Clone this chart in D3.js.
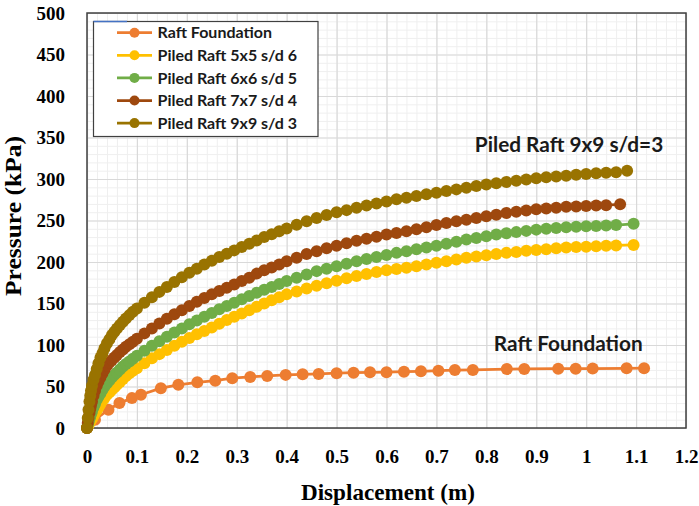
<!DOCTYPE html>
<html>
<head>
<meta charset="utf-8">
<script src="https://cdn.jsdelivr.net/npm/d3@7"></script>
<style>
  html, body { margin: 0; padding: 0; background: #ffffff; }
  svg { display: block; }
</style>
</head>
<body>
<div id="chart"></div>
<script>
// ---------- DATA ----------
const seriesNames = ["Raft Foundation", "Piled Raft 5x5 s/d 6", "Piled Raft 6x6 s/d 5", "Piled Raft 7x7 s/d 4", "Piled Raft 9x9 s/d 3"];
const seriesColors = ["#ED7D31", "#FFC000", "#70AD47", "#9E480E", "#997300"];

const raftDisp = [0, 0.016, 0.043, 0.065, 0.09, 0.108, 0.148, 0.183, 0.221, 0.257, 0.291, 0.327, 0.361, 0.398, 0.432, 0.464, 0.5, 0.534, 0.567, 0.6, 0.635, 0.669, 0.704, 0.737, 0.773, 0.841, 0.876, 0.944, 0.979, 1.013, 1.081, 1.116];
const raftPress = [0, 10, 22, 30, 36, 40, 48, 52, 55, 57, 60, 61.5, 62.7, 64, 64.7, 65.2, 66, 66.6, 67.1, 67.3, 67.9, 68.3, 69, 69.8, 70, 71, 71.1, 71.4, 71.5, 71.6, 71.9, 72];

const piledDisp = [0, 0.0015, 0.003, 0.005, 0.0065, 0.008, 0.01, 0.013, 0.016, 0.0195, 0.023, 0.027, 0.031, 0.035, 0.04, 0.045, 0.05, 0.055, 0.06, 0.066, 0.072, 0.078, 0.085, 0.092, 0.1,
  0.115, 0.13, 0.145, 0.16, 0.175, 0.19, 0.205, 0.22, 0.235, 0.25, 0.265, 0.28, 0.295, 0.31, 0.325, 0.34, 0.355, 0.37, 0.385, 0.4,
  0.42, 0.44, 0.46, 0.48, 0.5, 0.52, 0.54, 0.56, 0.58, 0.6, 0.62, 0.64, 0.66, 0.68, 0.7, 0.72, 0.74, 0.76, 0.78, 0.8, 0.82, 0.84, 0.86, 0.88, 0.9, 0.92, 0.94, 0.96, 0.98, 1.0, 1.02, 1.04, 1.06];

const press5x5 = [0, 2, 3.5, 6, 8, 9.5, 11, 14.5, 18, 21.5, 25, 29, 33, 36, 40, 43, 46, 49, 52, 55.5, 59, 62.5, 66, 69, 72,
  78, 84, 89, 94, 99, 104, 108.5, 113, 117, 121, 125.5, 130, 134, 138, 142, 146, 150, 154, 157.5, 161,
  164.5, 168, 171.5, 174.5, 177.5, 180.5, 183, 185.5, 188, 190, 191.5, 193, 195, 197, 199, 201, 203, 205, 206.5, 208, 209.5, 211, 212, 213.5, 214.5, 215.5, 216.5, 217.5, 218, 218.5, 219, 219.5, 220];
const press6x6 = [0, 3.5, 7, 11, 14, 17, 20, 25, 29, 34, 38, 42, 46, 50, 54, 57.5, 61, 64, 67, 70.5, 74, 77, 80, 83.5, 87,
  93, 99, 104.5, 110, 115, 120, 125, 129.5, 134, 138.5, 143, 147, 151, 155, 159, 163, 166.5, 170, 173.5, 177,
  181, 185, 189, 192, 195, 198, 201, 203.5, 206, 208.5, 211, 213, 215.5, 217.5, 219.5, 222, 224.5, 227, 229, 231, 233, 234.5, 236, 237.5, 239, 240, 241, 242, 242.5, 243, 243.5, 244, 244.5];
const press7x7 = [0, 6, 12, 18, 23, 27, 32, 39, 45, 51, 56, 61, 66, 70.5, 75, 79, 82, 85, 88, 91.5, 94.5, 98, 101, 104, 107.5,
  114, 120, 126, 131.5, 137, 142, 147, 152, 156.5, 161, 165, 169, 173, 177, 181, 186, 190, 193.5, 197, 201,
  205, 209.5, 213, 216.5, 219.5, 222.5, 225.5, 228, 230.5, 233, 235, 237, 239.5, 242, 244.5, 247, 249, 251, 253, 255, 257, 259, 260.5, 262, 263.5, 264.5, 265.5, 266.5, 267, 267.5, 268, 268.5];
const press9x9 = [0, 12, 22, 32, 39, 45, 51, 58, 64, 71, 78, 85, 90, 96, 102, 107, 112, 116, 120, 124, 128, 132, 136, 140, 144,
  151, 157.5, 164, 170, 176, 181.5, 187, 192, 197, 201.5, 206, 210, 214, 218, 222, 226, 230, 233.5, 237, 240.5,
  245, 249, 253, 256.5, 260, 262.5, 265.5, 268, 270.5, 273, 275.5, 277.5, 279.5, 281.5, 283.5, 285.5, 287.5, 289.5, 291.5, 293.5, 295, 296.5, 298, 299.5, 301, 302, 303, 304, 305, 306, 307, 307.5, 308];

// final load-step of each piled raft curve [displacement, pressure]
const lastPoints = [[1.095, 220.5], [1.095, 246], [1.068, 269.5], [1.082, 310]];

const xTicks = [0, 0.1, 0.2, 0.3, 0.4, 0.5, 0.6, 0.7, 0.8, 0.9, 1, 1.1, 1.2];
const xTickLabels = ["0", "0.1", "0.2", "0.3", "0.4", "0.5", "0.6", "0.7", "0.8", "0.9", "1", "1.1", "1.2"];
const yTicks = [0, 50, 100, 150, 200, 250, 300, 350, 400, 450, 500];
const yTickLabels = ["0", "50", "100", "150", "200", "250", "300", "350", "400", "450", "500"];

const xTitle = "Displacement (m)";
const yTitle = "Pressure (kPa)";
const annotations = [["Piled Raft 9x9 s/d=3", 0.777, 332.5], ["Raft Foundation", 0.815, 93]];

// ---------- BUILD SERIES ----------
const series = [];
series.push(raftDisp.map((d, i) => [d, raftPress[i]]));
[press5x5, press6x6, press7x7, press9x9].forEach((arr, k) => {
  const pts = arr.map((p, i) => [piledDisp[i], p]);
  pts.push(lastPoints[k]);
  series.push(pts);
});

// ---------- CHART ----------
const W = 699, H = 506;
const svg = d3.select("#chart").append("svg").attr("width", W).attr("height", H);

const x = d3.scaleLinear().domain([0, 1.2]).range([87, 686]);
const y = d3.scaleLinear().domain([0, 500]).range([428, 13]);

// minor grid
const gMinor = svg.append("g");
gMinor.append("g").attr("transform", `translate(0,${y(0)})`)
  .call(d3.axisBottom(x).tickValues(d3.range(0, 61).map(i => i * 0.02)).tickSize(-(y(0) - y(500))).tickFormat(""))
  .call(g => g.select(".domain").remove())
  .call(g => g.selectAll("line").attr("stroke", "#efefef").attr("stroke-width", 1));
gMinor.append("g").attr("transform", `translate(${x(0)},0)`)
  .call(d3.axisLeft(y).tickValues(d3.range(0, 51).map(i => i * 10)).tickSize(-(x(1.2) - x(0))).tickFormat(""))
  .call(g => g.select(".domain").remove())
  .call(g => g.selectAll("line").attr("stroke", "#efefef").attr("stroke-width", 1));

// major grid
svg.append("g").attr("transform", `translate(0,${y(0)})`)
  .call(d3.axisBottom(x).tickValues(xTicks).tickSize(-(y(0) - y(500))).tickFormat(""))
  .call(g => g.select(".domain").remove())
  .call(g => g.selectAll("line").attr("stroke", "#d9d9d9").attr("stroke-width", 1.2));
svg.append("g").attr("transform", `translate(${x(0)},0)`)
  .call(d3.axisLeft(y).tickValues(yTicks).tickSize(-(x(1.2) - x(0))).tickFormat(""))
  .call(g => g.select(".domain").remove())
  .call(g => g.selectAll("line").attr("stroke", "#d9d9d9").attr("stroke-width", 1.2));

// frame
svg.append("rect").attr("x", x(0)).attr("y", y(500)).attr("width", x(1.2) - x(0)).attr("height", y(0) - y(500))
  .attr("fill", "none").attr("stroke", "#404040").attr("stroke-width", 1.5);

// tick labels
svg.append("g").attr("transform", `translate(0,${y(0)})`)
  .call(d3.axisBottom(x).tickValues(xTicks).tickSize(0).tickPadding(22).tickFormat((d, i) => xTickLabels[i]))
  .call(g => g.select(".domain").remove())
  .call(g => g.selectAll("text").attr("font-family", "'Liberation Serif', 'Times New Roman', serif")
    .attr("font-weight", "bold").attr("font-size", 19).attr("fill", "#000"));
svg.append("g").attr("transform", `translate(${x(0)},0)`)
  .call(d3.axisLeft(y).tickValues(yTicks).tickSize(0).tickPadding(22).tickFormat((d, i) => yTickLabels[i]))
  .call(g => g.select(".domain").remove())
  .call(g => g.selectAll("text").attr("font-family", "'Liberation Serif', 'Times New Roman', serif")
    .attr("font-weight", "bold").attr("font-size", 19).attr("fill", "#000"));

// axis titles
svg.append("text").attr("x", 388).attr("y", 500).attr("text-anchor", "middle")
  .attr("font-family", "'Liberation Serif', 'Times New Roman', serif").attr("font-weight", "bold")
  .attr("font-size", 23).attr("textLength", 174).attr("lengthAdjust", "spacingAndGlyphs")
  .attr("fill", "#000").text(xTitle);
svg.append("text").attr("transform", "translate(21,216) rotate(-90)").attr("text-anchor", "middle")
  .attr("font-family", "'Liberation Serif', 'Times New Roman', serif").attr("font-weight", "bold")
  .attr("font-size", 23).attr("textLength", 160).attr("lengthAdjust", "spacingAndGlyphs")
  .attr("fill", "#000").text(yTitle);

// series
const line = d3.line().x(d => x(d[0])).y(d => y(d[1]));
series.forEach((pts, k) => {
  const g = svg.append("g");
  g.append("path").datum(pts).attr("d", line).attr("fill", "none")
    .attr("stroke", seriesColors[k]).attr("stroke-width", 2.75);
  g.selectAll("circle").data(pts).join("circle")
    .attr("cx", d => x(d[0])).attr("cy", d => y(d[1])).attr("r", 6)
    .attr("fill", seriesColors[k]);
});

// annotations
annotations.forEach(a => {
  svg.append("text").attr("x", x(a[1])).attr("y", y(a[2])).attr("text-anchor", "start")
    .attr("font-family", "Lato, 'Liberation Sans', sans-serif").attr("font-weight", "bold")
    .attr("font-size", 20.8).attr("fill", "#1a1a1a").text(a[0]);
});

// legend
const lg = svg.append("g");
lg.append("rect").attr("x", 93.5).attr("y", 21.5).attr("width", 224.5).attr("height", 115)
  .attr("fill", "#ffffff").attr("stroke", "#404040").attr("stroke-width", 1.2);
lg.append("line").attr("x1", 93.5).attr("x2", 127).attr("y1", 21.5).attr("y2", 21.5)
  .attr("stroke", "#4472C4").attr("stroke-width", 1.5);
seriesNames.forEach((name, k) => {
  const cy = 32.7 + k * 22.6;
  lg.append("line").attr("x1", 117).attr("x2", 152).attr("y1", cy).attr("y2", cy)
    .attr("stroke", seriesColors[k]).attr("stroke-width", 2.75);
  lg.append("circle").attr("cx", 134.5).attr("cy", cy).attr("r", 5).attr("fill", seriesColors[k]);
  lg.append("text").attr("x", 157.5).attr("y", cy).attr("dy", "0.36em")
    .attr("font-family", "Lato, 'Liberation Sans', sans-serif").attr("font-weight", "bold")
    .attr("font-size", 16).attr("fill", "#1a1a1a").text(name);
});
</script>
</body>
</html>
